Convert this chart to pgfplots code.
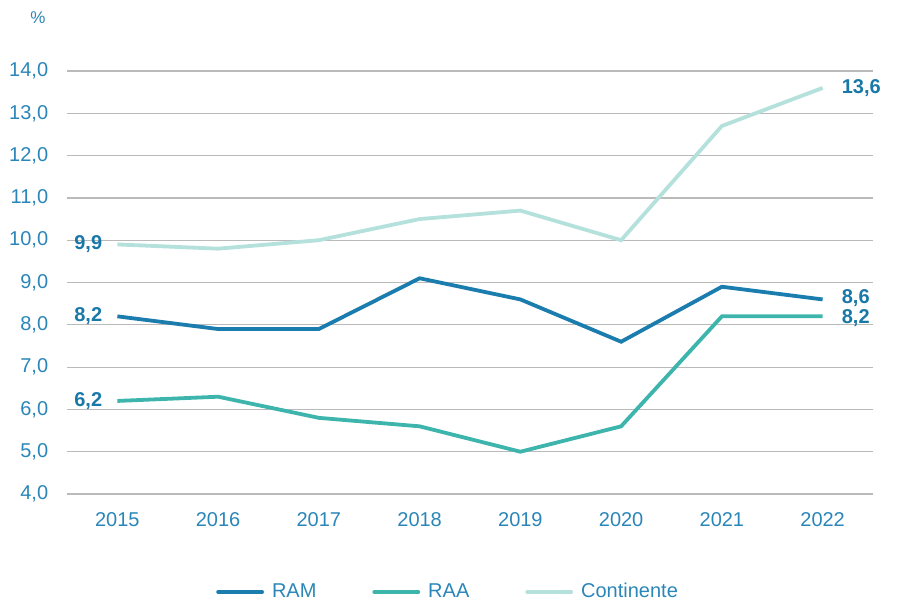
\documentclass[border=0pt]{standalone}
\usepackage{pgfplots}
\pgfplotsset{compat=1.18}
\usepackage{fontspec}
\setmainfont{Liberation Sans}
\definecolor{ram}{HTML}{1B7DAE}
\definecolor{raa}{HTML}{3DB5AC}
\definecolor{cont}{HTML}{B4E1DC}
\definecolor{txt}{HTML}{2A86B8}
\definecolor{lab}{HTML}{1A78A8}
\begin{document}
\fontsize{20}{23}\selectfont
\begin{tikzpicture}
\begin{axis}[
  scale only axis, width=806pt, height=423pt,
  xmin=-0.5, xmax=7.5, ymin=4, ymax=14,
  xtick={0,...,7}, xticklabels={2015,2016,2017,2018,2019,2020,2021,2022},
  ytick={4,5,...,14},
  yticklabel={\pgfmathprintnumber[fixed,fixed zerofill,precision=1,use comma]{\tick}},
  /pgf/number format/assume math mode=true,
  ymajorgrids, major grid style={color=black!27, line width=1.2pt},
  axis line style={draw=none}, major tick length=0pt,
  tick label style={text=txt, font=\fontsize{20}{23}\selectfont},
  yticklabel style={xshift=-12pt},
  xticklabel style={yshift=-12pt},
  clip=false,
  legend style={at={(rel axis cs:0,0)}, xshift=146pt, yshift=-98pt, anchor=west, draw=none, fill=none,
    font=\fontsize{20}{23}\selectfont\color{txt}, legend columns=3,
    /tikz/every odd column/.append style={column sep=6pt},
    /tikz/every even column/.append style={column sep=54pt}},
  legend image code/.code={\draw[#1, line cap=round] (0pt,0pt) -- (44pt,0pt);},
]
\addplot[ram, line width=3.8pt] coordinates {(0,8.2)(1,7.9)(2,7.9)(3,9.1)(4,8.6)(5,7.6)(6,8.9)(7,8.6)};
\addlegendentry{RAM}
\addplot[raa, line width=3.8pt] coordinates {(0,6.2)(1,6.3)(2,5.8)(3,5.6)(4,5.0)(5,5.6)(6,8.2)(7,8.2)};
\addlegendentry{RAA}
\addplot[cont, line width=3.8pt] coordinates {(0,9.9)(1,9.8)(2,10.0)(3,10.5)(4,10.7)(5,10.0)(6,12.7)(7,13.6)};
\addlegendentry{Continente}
\begin{scope}[every node/.style={text=lab, font=\fontsize{20}{23}\selectfont\bfseries, inner sep=1pt}]
\node[anchor=east] at ([xshift=-14pt]axis cs:0,9.9) {9,9};
\node[anchor=east] at ([xshift=-14pt]axis cs:0,8.2) {8,2};
\node[anchor=east] at ([xshift=-14pt]axis cs:0,6.2) {6,2};
\node[anchor=west] at ([xshift=18pt]axis cs:7,13.6) {13,6};
\node[anchor=west] at ([xshift=18pt,yshift=1.5pt]axis cs:7,8.6) {8,6};
\node[anchor=west] at ([xshift=18pt,yshift=-1.5pt]axis cs:7,8.2) {8,2};
\end{scope}
\node[text=txt, font=\fontsize{17}{20}\selectfont] at ([xshift=-29pt,yshift=53pt]rel axis cs:0,1) {\%};
\path[use as bounding box] ([xshift=-67pt,yshift=-108pt]rel axis cs:0,0) rectangle ([xshift=25pt,yshift=71pt]rel axis cs:1,1);
\end{axis}
\end{tikzpicture}
\end{document}
